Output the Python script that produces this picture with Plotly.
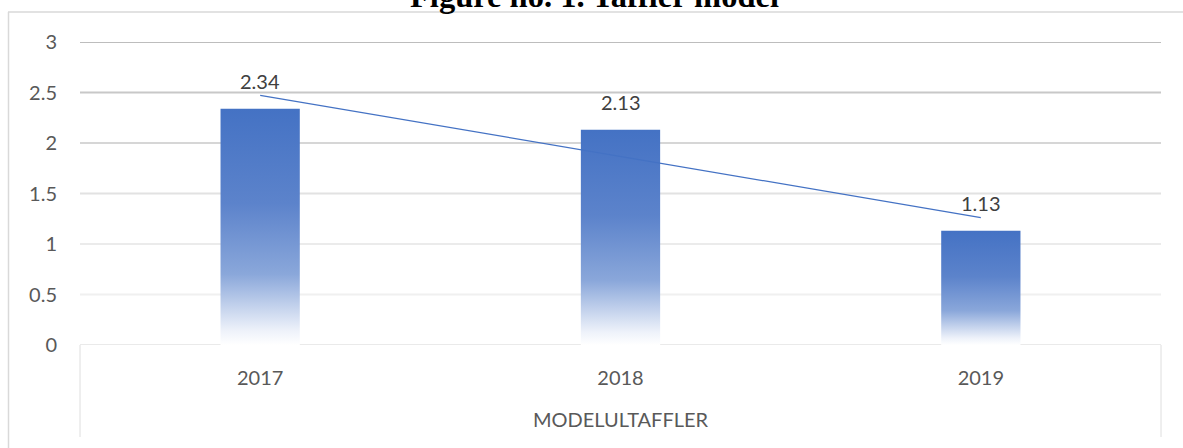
import numpy as np
import plotly.graph_objects as go

categories = ["2017", "2018", "2019"]
values = [2.34, 2.13, 1.13]
y_ticks = [0, 0.5, 1, 1.5, 2, 2.5, 3]
y_tick_labels = ["0", "0.5", "1", "1.5", "2", "2.5", "3"]
title_text = "Figure no. 1. Taffler model"
axis_title = "MODELULTAFFLER"

BLUE = "#4472C4"
TXT = "#595959"
FONT = "Lato"
BAR_W = 0.22

xs = list(range(len(categories)))
fig = go.Figure()

# bars with vertical gradient (one polygon per bar)
for i, v in zip(xs, values):
    fig.add_trace(go.Scatter(
        x=[i - BAR_W / 2, i + BAR_W / 2, i + BAR_W / 2, i - BAR_W / 2, i - BAR_W / 2],
        y=[0, 0, v, v, 0],
        mode="lines", line=dict(width=0),
        fill="toself",
        fillgradient=dict(type="vertical", colorscale=[
            [0.0, "#ffffff"], [0.06, "#eef2fa"], [0.3, "#8aa7da"],
            [0.6, "#5c83cb"], [1.0, BLUE]]),
        hoverinfo="skip", showlegend=False))

# linear trendline
slope, intercept = np.polyfit(np.array(xs, dtype=float), np.array(values), 1)
trend = [slope * x + intercept for x in xs]
fig.add_trace(go.Scatter(x=xs, y=trend, mode="lines",
                         line=dict(color=BLUE, width=1.2),
                         hoverinfo="skip", showlegend=False))

# data labels
for i, v in zip(xs, values):
    fig.add_annotation(x=i, y=v, xref="x", yref="y", text=f"{v:.2f}",
                       showarrow=False, yanchor="bottom", yshift=14,
                       font=dict(family=FONT, size=20, color="#404040"))

shapes = []
grid_colors = ["#e3e3e3", "#f0f0f0", "#ebebeb", "#e2e2e2", "#d6d6d6", "#c8c8c8", "#bdbdbd"]
for t, c in zip(y_ticks, grid_colors):
    shapes.append(dict(type="line", xref="paper", yref="y", x0=0, x1=1, y0=t, y1=t,
                       line=dict(color=c, width=2 if t > 0 else 1.5), layer="below"))

def px_x(p):
    return (p - 80) / 1081.0

def px_y(p):
    return (345 - p) / 303.0

# chart frame
frame = "#d9d9d9"
shapes.append(dict(type="line", xref="paper", yref="paper", x0=px_x(8), x1=px_x(1190),
                   y0=px_y(12), y1=px_y(12), line=dict(color=frame, width=1.5)))
shapes.append(dict(type="line", xref="paper", yref="paper", x0=px_x(8.5), x1=px_x(8.5),
                   y0=px_y(12), y1=px_y(460), line=dict(color=frame, width=1.5)))
# axis table box
for xp in (0, 1):
    shapes.append(dict(type="line", xref="paper", yref="paper", x0=xp, x1=xp,
                       y0=0, y1=px_y(437), line=dict(color="#dedede", width=1)))

fig.update_layout(
    width=1183, height=448,
    margin=dict(l=80, r=22, t=42, b=103),
    paper_bgcolor="white", plot_bgcolor="white",
    shapes=shapes,
    font=dict(family=FONT, size=20, color=TXT),
    xaxis=dict(range=[-0.5, 2.5], tickvals=xs, ticktext=categories,
               showgrid=False, zeroline=False, showline=False, ticks="",
               ticklabelstandoff=19,
               title=dict(text=axis_title, font=dict(family=FONT, size=20, color=TXT),
                          standoff=24)),
    yaxis=dict(range=[0, 3], tickvals=y_ticks, ticktext=y_tick_labels,
               showgrid=False, zeroline=False, showline=False, ticks="",
               ticklabelstandoff=22),
)

fig.add_annotation(text=f"<b>{title_text}</b>", xref="paper", yref="paper",
                   x=px_x(594), y=1, yanchor="bottom", yshift=26, showarrow=False,
                   font=dict(family="Liberation Serif", size=32.5, color="black"))

fig.write_html("out.html", config={"displayModeBar": False},
               post_script="document.body.style.margin='0';document.body.style.padding='0';")
